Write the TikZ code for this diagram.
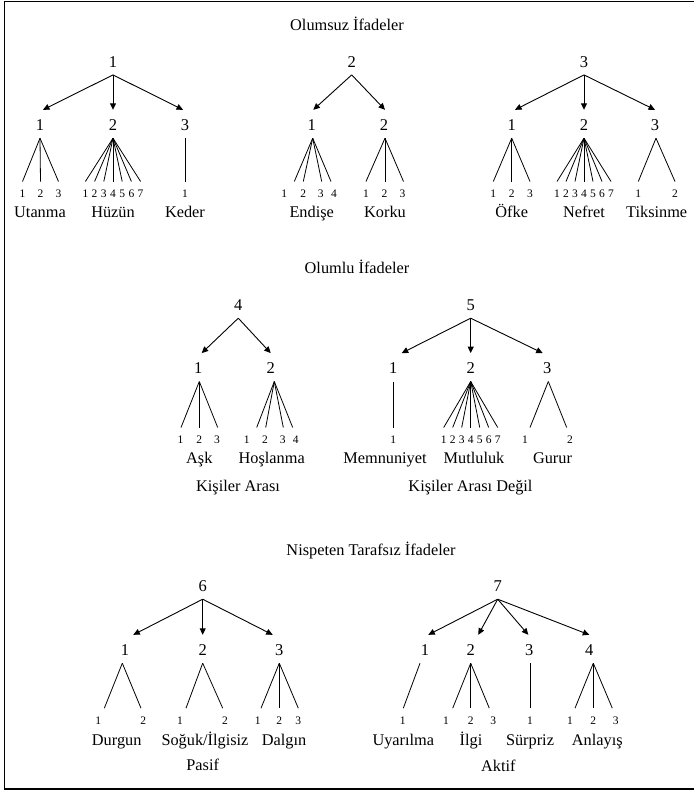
\documentclass[tikz,border=0pt]{standalone}
\usepackage{fontspec}
\setmainfont{Liberation Serif}
\usetikzlibrary{arrows.meta}
\newcommand\myfan[3]{%
  \foreach \lf/\dx in {#3} {\draw[ln] ([xshift=#2pt,yshift=-7.5pt]#1.south) -- ([xshift=\dx pt,yshift=8.4pt]\lf.north);}}
\newcommand\myarr[3]{%
  \draw[arr] ([yshift=-7.5pt]#1.south) -- ([xshift=#3pt,yshift=9.5pt]#2.north);}
\begin{document}
\begin{tikzpicture}[x=1pt,y=-1pt,
  big/.style={inner sep=0pt,text height=11pt,text depth=0pt,font=\fontsize{16.5}{19}\selectfont},
  sm/.style={inner sep=0pt,text height=7.8pt,text depth=0pt,font=\fontsize{11.5}{13}\selectfont},
  lab/.style={inner sep=0pt,anchor=base,font=\fontsize{16.3}{19}\selectfont},
  arr/.style={line width=0.9pt,-{Triangle[length=6.5pt,width=6pt]}},
  ln/.style={line width=0.8pt},
  frame/.style={line width=1.3pt}]
\useasboundingbox (0,0) rectangle (694,790);
\draw[frame] (694,1.5) -- (4.5,1.5) -- (4.5,789) -- (694,789);

% ---------- Olumsuz
\node[lab] (h1) at (347,30) {Olumsuz İfadeler};
% tree 1
\node[big] (r1) at (113,61.7) {1};
\node[big] (c11) at (40,125) {1};
\node[big] (c12) at (113,125) {2};
\node[big] (c13) at (185,125) {3};
\myarr{r1}{c11}{3}\myarr{r1}{c12}{0}\myarr{r1}{c13}{-2}
\node[sm] (l111) at (22.5,194) {1};
\node[sm] (l112) at (40.5,194) {2};
\node[sm] (l113) at (58.5,194) {3};
\foreach \i in {1,...,7} \node[sm] (l12\i) at ({113+9.2*(\i-4)},194) {\i};
\node[sm] (l131) at (185,194) {1};
\myfan{c11}{0}{l111/0,l112/0,l113/0}
\myfan{c12}{0}{l121/0,l122/0,l123/0,l124/0,l125/0,l126/0,l127/0}
\myfan{c13}{0}{l131/0}
\node[lab] (w11) at (40,217) {Utanma};
\node[lab] (w12) at (113,217) {Hüzün};
\node[lab] (w13) at (185,217) {Keder};
% tree 2
\node[big] (r2) at (351.7,61.7) {2};
\node[big] (c21) at (311.7,125) {1};
\node[big] (c22) at (384,125) {2};
\myarr{r2}{c21}{1.6}\myarr{r2}{c22}{1}
\node[sm] (l211) at (284.3,194) {1};
\node[sm] (l212) at (303.3,194) {2};
\node[sm] (l213) at (320.7,194) {3};
\node[sm] (l214) at (334,194) {4};
\node[sm] (l221) at (366,194) {1};
\node[sm] (l222) at (384.5,194) {2};
\node[sm] (l223) at (402.5,194) {3};
\myfan{c21}{1}{l211/10,l212/0,l213/1,l214/-3}
\myfan{c22}{1}{l221/0,l222/0.5,l223/1}
\node[lab] (w21) at (311.7,217) {Endişe};
\node[lab] (w22) at (385,217) {Korku};
% tree 3
\node[big] (r3) at (584,61.7) {3};
\node[big] (c31) at (511.7,125) {1};
\node[big] (c32) at (584,125) {2};
\node[big] (c33) at (655,125) {3};
\myarr{r3}{c31}{3.3}\myarr{r3}{c32}{0}\myarr{r3}{c33}{0}
\node[sm] (l311) at (493.3,194) {1};
\node[sm] (l312) at (511.7,194) {2};
\node[sm] (l313) at (530,194) {3};
\foreach \i in {1,...,7} \node[sm] (l32\i) at ({584+9*(\i-4)},194) {\i};
\node[sm] (l331) at (638.3,194) {1};
\node[sm] (l332) at (675,194) {2};
\myfan{c31}{0}{l311/0,l312/0,l313/0}
\myfan{c32}{0}{l321/0,l322/0,l323/0,l324/0,l325/0,l326/0,l327/0}
\myfan{c33}{1}{l331/0,l332/0}
\node[lab] (w31) at (511.7,217) {Öfke};
\node[lab] (w32) at (584,217) {Nefret};
\node[lab] (w33) at (656.7,217) {Tiksinme};

% ---------- Olumlu
\node[lab] (h2) at (357,273) {Olumlu İfadeler};
% tree 4
\node[big] (r4) at (238.3,305) {4};
\node[big] (c41) at (198.3,368.3) {1};
\node[big] (c42) at (270.7,368.3) {2};
\myarr{r4}{c41}{3.4}\myarr{r4}{c42}{0}
\node[sm] (l411) at (180.5,440) {1};
\node[sm] (l412) at (199.3,440) {2};
\node[sm] (l413) at (217,440) {3};
\node[sm] (l421) at (246.7,440) {1};
\node[sm] (l422) at (265,440) {2};
\node[sm] (l423) at (282.7,440) {3};
\node[sm] (l424) at (295.7,440) {4};
\myfan{c41}{1}{l411/0.5,l412/0,l413/0.7}
\myfan{c42}{3.6}{l421/10,l422/0.7,l423/0.6,l424/-3}
\node[lab] (w41) at (199.3,463.5) {Aşk};
\node[lab] (w42) at (271.7,463.5) {Hoşlanma};
\node[lab] (g4) at (238,491.5) {Kişiler Arası};
% tree 5
\node[big] (r5) at (470.7,305) {5};
\node[big] (c51) at (393.3,368.3) {1};
\node[big] (c52) at (470.7,368.3) {2};
\node[big] (c53) at (547.3,368.3) {3};
\myarr{r5}{c51}{8.4}\myarr{r5}{c52}{0}\myarr{r5}{c53}{-4.6}
\node[sm] (l511) at (393.3,440) {1};
\foreach \i in {1,...,7} \node[sm] (l52\i) at ({470.7+9*(\i-4)},440) {\i};
\node[sm] (l531) at (525,440) {1};
\node[sm] (l532) at (570,440) {2};
\myfan{c51}{0}{l511/0}
\myfan{c52}{0}{l521/0,l522/0,l523/0,l524/0,l525/0,l526/0,l527/0}
\myfan{c53}{1}{l531/5,l532/-3.3}
\node[lab] (w51) at (385,463.5) {Memnuniyet};
\node[lab] (w52) at (474,463.5) {Mutluluk};
\node[lab] (w53) at (552.5,463.5) {Gurur};
\node[lab] (g5) at (470.5,491.5) {Kişiler Arası Değil};

% ---------- Nispeten Tarafsiz
\node[lab] (h3) at (371,555) {Nispeten Tarafsız İfadeler};
% tree 6
\node[big] (r6) at (202.7,586) {6};
\node[big] (c61) at (125,650) {1};
\node[big] (c62) at (202.7,650) {2};
\node[big] (c63) at (279.3,650) {3};
\myarr{r6}{c61}{8.3}\myarr{r6}{c62}{0}\myarr{r6}{c63}{-6.6}
\node[sm] (l611) at (98.3,720.7) {1};
\node[sm] (l612) at (143.3,720.7) {2};
\node[sm] (l621) at (180,720.7) {1};
\node[sm] (l622) at (225,720.7) {2};
\node[sm] (l631) at (257.7,720.7) {1};
\node[sm] (l632) at (279.3,720.7) {2};
\node[sm] (l633) at (298.3,720.7) {3};
\myfan{c61}{-2.7}{l611/6,l612/-2.3}
\myfan{c62}{0}{l621/6,l622/-2.3}
\myfan{c63}{0}{l631/3.3,l632/0,l633/0}
\node[lab] (w61) at (116.7,745) {Durgun};
\node[lab] (w62) at (205,745) {Soğuk/İlgisiz};
\node[lab] (w63) at (284,745) {Dalgın};
\node[lab] (g6) at (202.7,770) {Pasif};
% tree 7
\node[big] (r7) at (497.7,586) {7};
\node[big] (c71) at (425,650) {1};
\node[big] (c72) at (470.7,650) {2};
\node[big] (c73) at (529.3,650) {3};
\node[big] (c74) at (589.3,650) {4};
\myarr{r7}{c71}{3.3}\myarr{r7}{c72}{7.6}\myarr{r7}{c73}{-1}\myarr{r7}{c74}{0}
\node[sm] (l711) at (402.7,720.7) {1};
\node[sm] (l721) at (446,720.7) {1};
\node[sm] (l722) at (470.7,720.7) {2};
\node[sm] (l723) at (493.3,720.7) {3};
\node[sm] (l731) at (530,720.7) {1};
\node[sm] (l741) at (570,720.7) {1};
\node[sm] (l742) at (593.3,720.7) {2};
\node[sm] (l743) at (615.7,720.7) {3};
\myfan{c71}{-5}{l711/0.6}
\myfan{c72}{0}{l721/6.7,l722/0,l723/-4}
\myfan{c73}{0.7}{l731/0}
\myfan{c74}{4}{l741/5,l742/0,l743/-3.4}
\node[lab] (w71) at (403.3,745) {Uyarılma};
\node[lab] (w72) at (471,745) {İlgi};
\node[lab] (w73) at (530,745) {Sürpriz};
\node[lab] (w74) at (597.3,745) {Anlayış};
\node[lab] (g7) at (498.3,771) {Aktif};
\end{tikzpicture}
\end{document}
